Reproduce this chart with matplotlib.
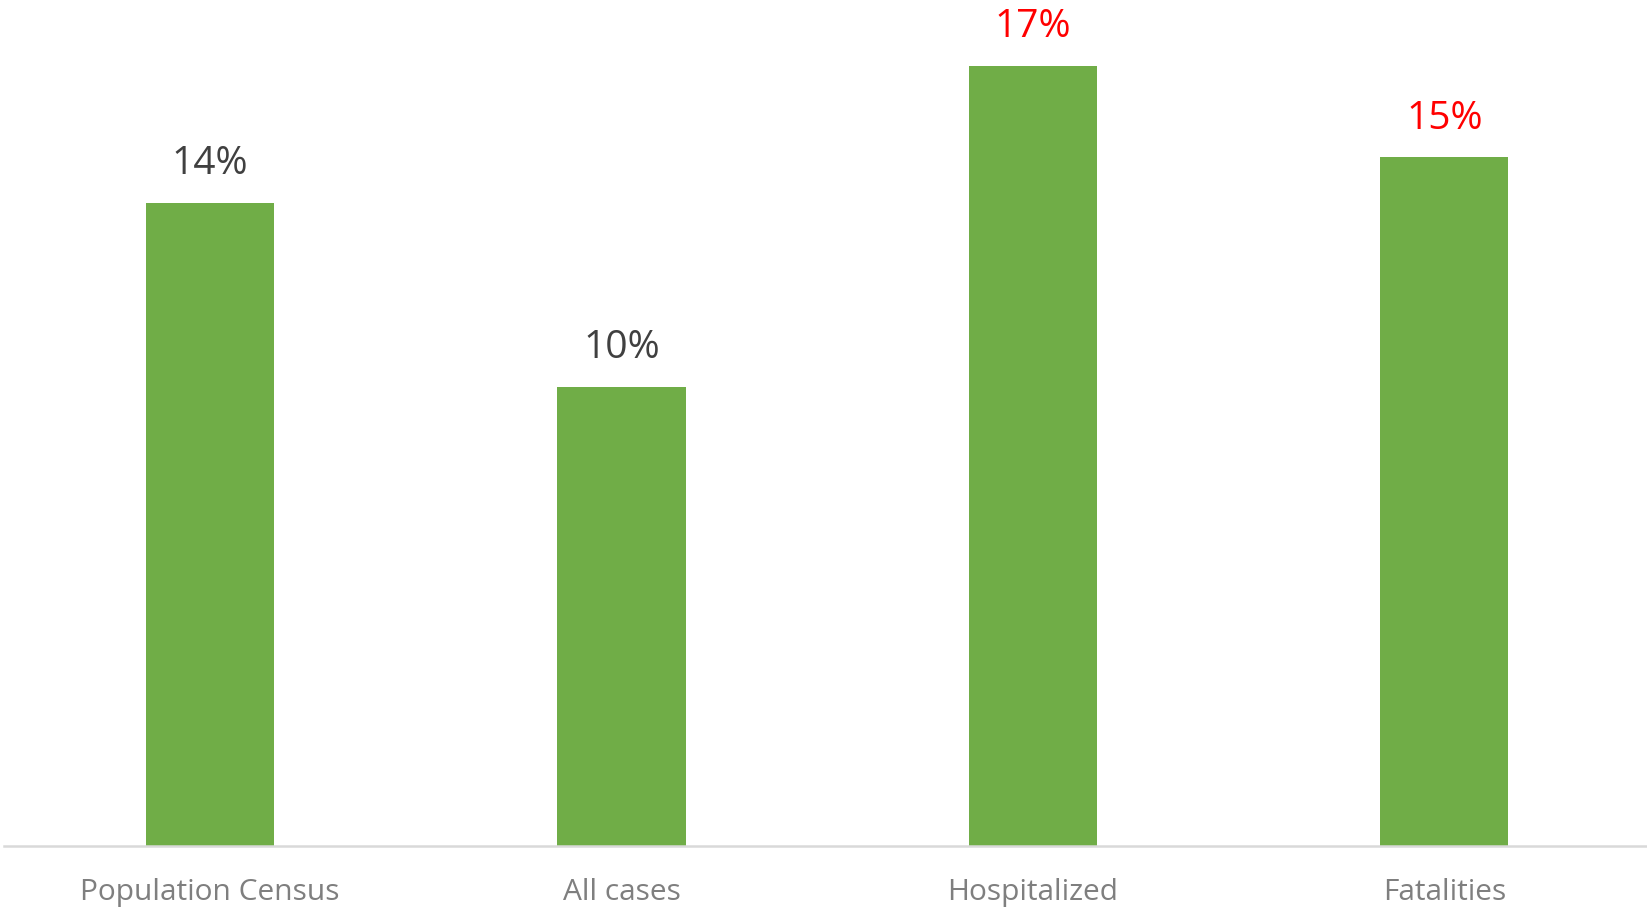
import matplotlib.pyplot as plt

categories = ["Population Census", "All cases", "Hospitalized", "Fatalities"]
values = [14, 10, 17, 15]
label_colors = ["#404040", "#404040", "#FF0000", "#FF0000"]

plt.rcParams['font.family'] = ['Open Sans', 'DejaVu Sans']

fig = plt.figure(figsize=(16.47, 9.09), dpi=100)
# axes: left edge ~4px, baseline ~846px from top, one category ~411px wide
ax = fig.add_axes([4.4 / 1647, 63 / 909, 1645.6 / 1647, 846 / 909])

x = range(len(categories))
bars = ax.bar(x, values, width=0.312, color="#70AD47")

for bar, v, c in zip(bars, values, label_colors):
    ax.annotate(f"{v}%", (bar.get_x() + bar.get_width() / 2, v),
                xytext=(0, 28), textcoords="offset points",
                ha="center", va="center", fontsize=28, color=c,
                annotation_clip=False)

ax.set_xlim(-0.5, 3.5)
ax.set_ylim(0, 18.43)
ax.set_xticks(list(x))
ax.set_xticklabels(categories, fontsize=21.5, color="#7F7F7F")
ax.tick_params(axis="x", length=0, pad=23)
ax.set_yticks([])

for side in ["top", "right", "left"]:
    ax.spines[side].set_visible(False)
ax.spines["bottom"].set_color("#D9D9D9")
ax.spines["bottom"].set_linewidth(1.8)

fig.savefig("out.png", dpi=100)
